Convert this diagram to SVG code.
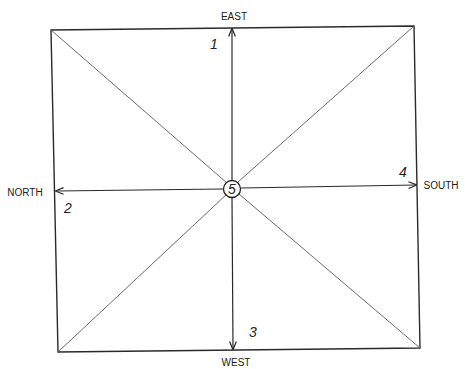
<svg xmlns="http://www.w3.org/2000/svg" width="465" height="369" viewBox="0 0 465 369">
<style>
.frame{fill:none;stroke:#2a2a2a;stroke-width:1.4}
.diag{fill:none;stroke:#5a5a5a;stroke-width:0.9}
.axis{fill:none;stroke:#2a2a2a;stroke-width:1.2}
.lbl{font-family:"Liberation Sans",Arial,sans-serif;fill:#222;font-size:10px}
.num{font-family:"Liberation Sans",Arial,sans-serif;font-style:italic;fill:#222;font-size:14px}
</style>
<defs>
<marker id="ah" viewBox="0 0 10 10" refX="9" refY="5" markerWidth="7" markerHeight="7" orient="auto-start-reverse">
<path d="M0,1 L10,5 L0,9" fill="none" stroke="#2a2a2a" stroke-width="1.5"/>
</marker>
</defs>
<rect width="465" height="369" fill="#ffffff"/>
<g id="frame">
<path class="frame" d="M51,30 L414,26 L420,348 L58,352 Z"/>
</g>
<g id="connectors">
<line class="diag" x1="51" y1="30" x2="227" y2="183"/>
<line class="diag" x1="414" y1="26" x2="238" y2="182"/>
<line class="diag" x1="58" y1="352" x2="227" y2="194"/>
<line class="diag" x1="420" y1="348" x2="239" y2="194"/>
<line class="axis" x1="232" y1="180" x2="232" y2="29" marker-end="url(#ah)"/>
<line class="axis" x1="232" y1="198" x2="233" y2="349" marker-end="url(#ah)"/>
<line class="axis" x1="223" y1="189" x2="56" y2="191" marker-end="url(#ah)"/>
<line class="axis" x1="241" y1="188" x2="416" y2="185" marker-end="url(#ah)"/>
</g>
<g id="n5">
<circle cx="232" cy="189" r="8.5" fill="#fff" stroke="#222" stroke-width="1.3"/>
<text class="num" x="232" y="194" text-anchor="middle" font-size="13">5</text>
</g>
<g id="east"><text class="lbl" x="234" y="20" text-anchor="middle" font-size="11">EAST</text><text class="num" x="214" y="49" text-anchor="middle">1</text></g>
<g id="north"><text class="lbl" x="25" y="196" text-anchor="middle" font-size="8.5">NORTH</text><text class="num" x="68" y="213" text-anchor="middle">2</text></g>
<g id="south"><text class="lbl" x="441" y="189" text-anchor="middle" font-size="9">SOUTH</text><text class="num" x="403" y="177" text-anchor="middle">4</text></g>
<g id="west"><text class="lbl" x="236" y="366" text-anchor="middle" font-size="10">WEST</text><text class="num" x="253" y="337" text-anchor="middle">3</text></g>
</svg>
